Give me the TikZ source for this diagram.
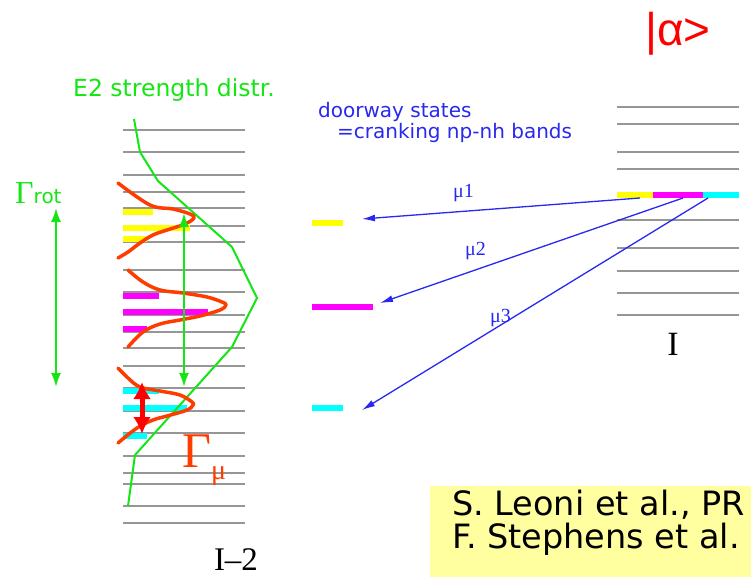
\documentclass[tikz,border=0pt]{standalone}
\usepackage{fontspec}
\setmainfont{Liberation Serif}
\newfontfamily\sansfnt{DejaVu Sans}
\newfontfamily\ketfnt{Liberation Sans}
\usetikzlibrary{arrows.meta}
\definecolor{egreen}{RGB}{20,230,20}
\definecolor{gred}{RGB}{255,60,0}
\definecolor{dblue}{RGB}{40,40,240}
\definecolor{lvlgray}{RGB}{150,150,150}
\definecolor{refyellow}{RGB}{255,255,160}
\definecolor{cyel}{RGB}{255,255,0}
\definecolor{cmag}{RGB}{255,0,255}
\definecolor{ccyan}{RGB}{0,255,255}
\begin{document}
\begin{tikzpicture}[
  x=1pt, y=-1pt,
  line join=round,
  lvl/.style={lvlgray, line width=1.3pt},
  bar/.style={line width=6pt},
  gauss/.style={gred, line width=3.5pt, line cap=round},
  e2/.style={egreen, line width=2pt},
  garrow/.style={egreen, line width=2pt,
    arrows={Latex[length=14pt,width=10pt]-Latex[length=14pt,width=10pt]}},
  rarrow/.style={red, line width=5pt,
    arrows={Latex[length=17pt,width=18pt]-Latex[length=17pt,width=18pt]}},
  transition/.style={dblue, line width=1.3pt,
    arrows={-Latex[length=13pt,width=7pt]}},
  txt/.style={inner sep=0pt, anchor=base west}
]
  \useasboundingbox (0,0) rectangle (751,577);

  % Niveaux I-2
  \foreach \y in {130,152,175,192,208,226,242,270,292,315,332,348,
                  366,388,411,433,456,473,484,506,523}
    \draw[lvl] (123,\y) -- (245,\y);

  % Niveaux I
  \foreach \y in {107,124,152,169,220,248,271,293,315}
    \draw[lvl] (617,\y) -- (739,\y);

  % Etat |alpha>
  \coordinate (a0) at (617,195);
  \coordinate (a1) at (653,195);
  \coordinate (a2) at (703,195);
  \coordinate (a3) at (739,195);
  \draw[bar, cyel]  (a0) -- (a1);
  \draw[bar, cmag]  (a1) -- (a2);
  \draw[bar, ccyan] (a2) -- (a3);

  % Etats doorway
  \draw[bar, cyel]  (312,223) -- (343,223);
  \draw[bar, cmag]  (312,307) -- (373,307);
  \draw[bar, ccyan] (312,408) -- (343,408);

  % Fragmentation
  \draw[bar, cyel]  (123,212) -- (153,212);
  \draw[bar, cyel]  (123,228) -- (190,228);
  \draw[bar, cyel]  (123,239) -- (147,239);
  \draw[bar, cmag]  (123,296) -- (159,296);
  \draw[bar, cmag]  (123,312) -- (208,312);
  \draw[bar, cmag]  (123,329) -- (147,329);
  \draw[bar, ccyan] (123,391) -- (159,391);
  \draw[bar, ccyan] (123,408) -- (187,408);
  \draw[bar, ccyan] (123,436) -- (147,436);

  % Distribution E2
  \draw[e2] (134,119) -- (140,152) -- (158,181) -- (232,247) -- (257,298)
    -- (232,347) -- (135,455) -- (128,506);

  % Lorentziennes
  \draw[gauss] plot[smooth, tension=0.6] coordinates {(118,183) (150,205)
    (173,209) (190,214) (194,218) (185,224) (167,230) (153,235) (140,243)
    (128,252) (118,258)};
  \draw[gauss] plot[smooth, tension=0.6] coordinates {(128,270) (143,282)
    (160,290) (183,293) (207,297) (222,302) (226,305) (220,310) (200,316)
    (180,320) (160,324) (143,332) (128,347)};
  \draw[gauss] plot[smooth, tension=0.6] coordinates {(118,368) (128,378)
    (140,387) (160,391) (180,395) (192,402) (193,405) (187,410) (167,416)
    (153,420) (137,428) (118,443)};

  % Largeurs
  \coordinate (rt) at (56,208);
  \coordinate (rb) at (56,387);
  \coordinate (ct) at (184,213);
  \coordinate (cb) at (184,387);
  \coordinate (mt) at (142,382);
  \coordinate (mb) at (142,434);
  \draw[garrow] (rt) -- (rb);
  \draw[garrow] (ct) -- (cb);
  \draw[rarrow] (mt) -- (mb);

  % Transitions
  \coordinate (s1) at (640,198);
  \coordinate (s2) at (683,198);
  \coordinate (s3) at (708,198);
  \coordinate (t1) at (362,219);
  \coordinate (t2) at (380,303);
  \coordinate (t3) at (362,410);
  \draw[transition] (s1) -- (t1);
  \draw[transition] (s2) -- (t2);
  \draw[transition] (s3) -- (t3);

  % Textes
  \node[txt, egreen, font=\sansfnt\fontsize{23.5}{26}\selectfont] (e2lbl)
    at (73,97) {E2 strength distr.};
  \node[txt, dblue, font=\sansfnt\fontsize{20}{22}\selectfont] (doorway)
    at (318,118) {doorway states};
  \node[txt, dblue, font=\sansfnt\fontsize{20}{22}\selectfont] (cranking)
    at (337,139) {=cranking np-nh bands};
  \node[txt, red, font=\ketfnt\fontsize{46}{46}\selectfont] (ket)
    at (645,46) {|α>};
  \node[txt, egreen, font=\fontsize{32}{32}\selectfont] (grot)
    at (15,204) {Γ{\sansfnt\fontsize{20}{20}\selectfont rot}};
  \node[txt, gred, font=\fontsize{50}{50}\selectfont] (gmu)
    at (182,467) {Γ};
  \node[txt, gred, font=\fontsize{28}{28}\selectfont] (gmusub)
    at (211,479) {μ};
  \node[txt, dblue, font=\fontsize{20}{20}\selectfont] (mu1)
    at (453,198) {μ1};
  \node[txt, dblue, font=\fontsize{20}{20}\selectfont] (mu2)
    at (465,255) {μ2};
  \node[txt, dblue, font=\fontsize{20}{20}\selectfont] (mu3)
    at (490,322) {μ3};
  \node[inner sep=0pt, anchor=base, font=\fontsize{34}{34}\selectfont] (spinI)
    at (673,355) {I};
  \node[inner sep=0pt, anchor=base, font=\fontsize{33}{33}\selectfont] (spinI2)
    at (236,570) {I–2};

  % References
  \begin{scope}
    \clip (430,486) rectangle (751,577);
    \fill[refyellow] (430,486) rectangle (751,577);
    \node[txt, font=\sansfnt\fontsize{33.5}{36}\selectfont] (ref1)
      at (452,515) {S. Leoni et al., PR};
    \node[txt, font=\sansfnt\fontsize{33.5}{36}\selectfont] (ref2)
      at (452,548) {F. Stephens et al.};
  \end{scope}
\end{tikzpicture}
\end{document}
